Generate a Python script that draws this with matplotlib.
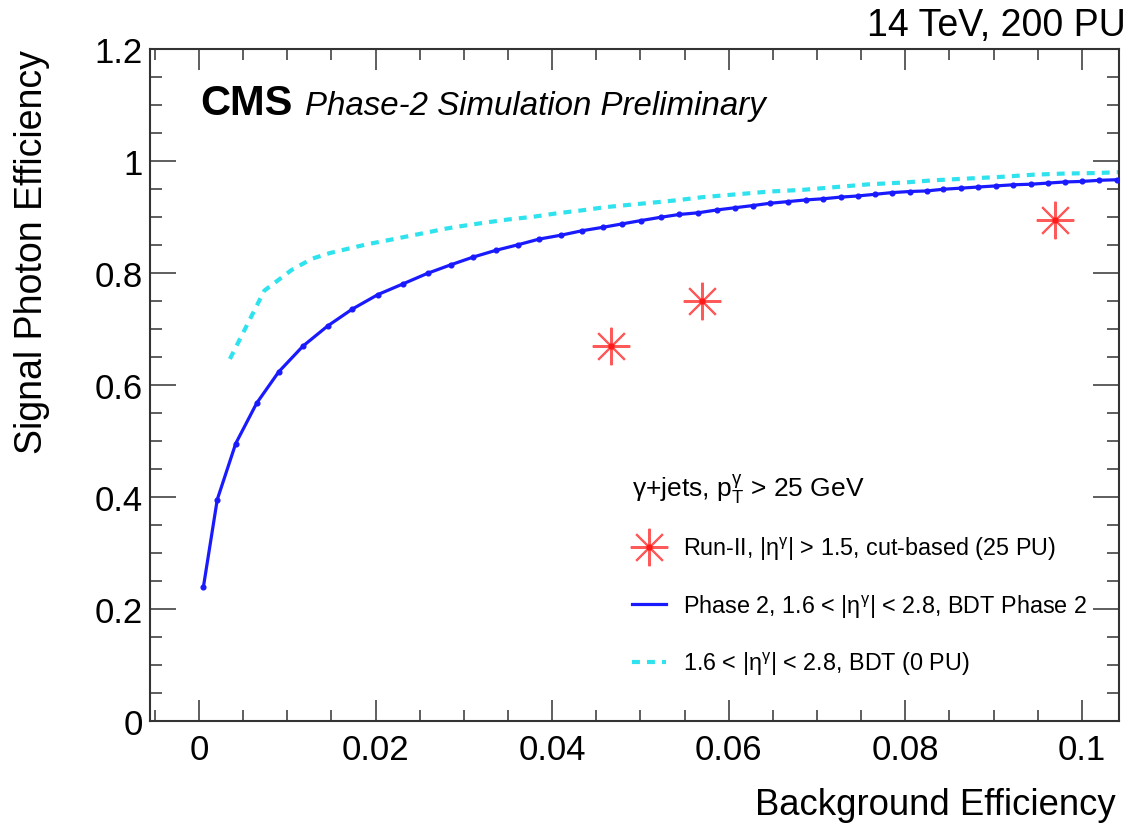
"""ROC curves: photon ID efficiency vs background efficiency."""

# Python libraries
import matplotlib
matplotlib.use('Agg')
import matplotlib.pyplot as plt
from matplotlib.lines import Line2D
from matplotlib.ticker import MultipleLocator, FuncFormatter


# Phase 2, BDT Phase 2 (200 PU).
bkg_phase2 = [0.00049, 0.00207, 0.00416, 0.00653, 0.00903, 0.01178, 0.01458,
              0.01736, 0.02027, 0.0231, 0.0259, 0.0285, 0.03107, 0.03363,
              0.03616, 0.03851, 0.0410, 0.04341, 0.04572, 0.04787, 0.05002,
              0.05229, 0.0544, 0.05655, 0.05863, 0.0607, 0.06278, 0.06467,
              0.06674, 0.06874, 0.0707, 0.07267, 0.0746, 0.07656, 0.07845,
              0.08052, 0.08241, 0.08429, 0.0863, 0.08826, 0.09026, 0.09222,
              0.0942, 0.09612, 0.09804, 0.1000, 0.10196, 0.10393]
sig_phase2 = [0.238, 0.395, 0.495, 0.567, 0.623, 0.669, 0.705,
              0.735, 0.761, 0.780, 0.799, 0.814, 0.828, 0.840,
              0.850, 0.860, 0.867, 0.875, 0.881, 0.887, 0.893,
              0.899, 0.904, 0.907, 0.912, 0.916, 0.920, 0.924,
              0.927, 0.930, 0.932, 0.935, 0.937, 0.940, 0.943,
              0.945, 0.946, 0.949, 0.951, 0.953, 0.955, 0.957,
              0.958, 0.960, 0.962, 0.963, 0.965, 0.966]

# BDT (0 PU).
bkg_0pu = [0.0035, 0.0074, 0.0105, 0.0128, 0.0148, 0.0172, 0.0191, 0.0211,
           0.0230, 0.0246, 0.0262, 0.0277, 0.0292, 0.0322, 0.0350, 0.0379,
           0.0405, 0.0432, 0.0460, 0.0486, 0.0513, 0.0539, 0.0571, 0.0609,
           0.0647, 0.0684, 0.0722, 0.0760, 0.0798, 0.0832, 0.0869, 0.0907,
           0.0945, 0.0979, 0.1017, 0.1050]
sig_0pu = [0.646, 0.768, 0.805, 0.825, 0.835, 0.844, 0.851, 0.857,
           0.863, 0.868, 0.873, 0.878, 0.882, 0.889, 0.895, 0.900,
           0.906, 0.911, 0.917, 0.921, 0.925, 0.929, 0.935, 0.940,
           0.945, 0.948, 0.953, 0.958, 0.961, 0.965, 0.968, 0.971,
           0.975, 0.977, 0.978, 0.980]

# Run-II cut-based working points (25 PU).
bkg_run2 = [0.0467, 0.0570, 0.0970]
sig_run2 = [0.669, 0.750, 0.894]

legend_header = r'γ+jets, p$_{\mathrm{T}}^{\mathrm{γ}}$ > 25 GeV'
legend_labels = [r'Run-II, |η$^{\mathrm{γ}}$| > 1.5, cut-based (25 PU)',
                 r'Phase 2, 1.6 < |η$^{\mathrm{γ}}$| < 2.8, BDT Phase 2',
                 r'1.6 < |η$^{\mathrm{γ}}$| < 2.8, BDT (0 PU)']

# Style.
plt.rcParams['font.family'] = ['Liberation Sans', 'DejaVu Sans']
plt.rcParams['mathtext.fontset'] = 'custom'
plt.rcParams['mathtext.rm'] = 'Liberation Sans'
plt.rcParams['mathtext.it'] = 'Liberation Sans:italic'
plt.rcParams['mathtext.bf'] = 'Liberation Sans:bold'

BLUE = '#1a1aff'
CYAN = '#2ee3ee'
RED = '#ff5a5a'
AXCOL = '#333333'

W, H = 1132, 828
fig = plt.figure(figsize=(W / 100, H / 100), dpi=100)
ax = fig.add_axes([150 / W, 1 - 721.7 / H, 969 / W, 672 / H])

# Curves.
ax.plot(bkg_0pu, sig_0pu, color=CYAN, linewidth=3.0,
        dashes=(1.9, 1.7), zorder=2)
ax.plot(bkg_phase2, sig_phase2, color=BLUE, linewidth=2.3,
        marker='o', markersize=3.4, zorder=3)
ax.plot(bkg_run2, sig_run2, linestyle='none', marker=(8, 2, 0),
        markersize=27, markeredgewidth=1.5, color=RED, zorder=4)
ax.plot(bkg_run2, sig_run2, linestyle='none', marker='o',
        markersize=3.5, color='#ff1a1a', zorder=5)

ax.set_xlim(-0.00555, 0.1042)
ax.set_ylim(0, 1.2)

# Ticks, ROOT style.
ax.xaxis.set_major_locator(MultipleLocator(0.02))
ax.xaxis.set_minor_locator(MultipleLocator(0.005))
ax.yaxis.set_major_locator(MultipleLocator(0.2))
ax.yaxis.set_minor_locator(MultipleLocator(0.05))
fmt = FuncFormatter(lambda v, p: '%g' % round(v, 4))
ax.xaxis.set_major_formatter(fmt)
ax.yaxis.set_major_formatter(fmt)

ax.tick_params(which='both', direction='in', top=True, right=True,
               color=AXCOL, width=1.1, labelsize=25)
ax.tick_params(axis='x', which='major', length=15, pad=9)
ax.tick_params(axis='x', which='minor', length=8)
ax.tick_params(axis='y', which='major', length=19, pad=5)
ax.tick_params(axis='y', which='minor', length=8.5)
for s in ax.spines.values():
    s.set_linewidth(1.5)
    s.set_color(AXCOL)

# Axis titles.
ax.set_xlabel('Background Efficiency', fontsize=26.3, loc='right')
ax.xaxis.set_label_coords((1116 - 150) / 969, (721.7 - 815) / 672)
ax.xaxis.label.set_verticalalignment('baseline')
ax.set_ylabel('Signal Photon Efficiency', fontsize=27, loc='top')
ax.yaxis.set_label_coords((50 - 150) / 969, 1.0)

# Labels.
fig.text(1126 / W, 1 - 36 / H, '14 TeV, 200 PU', fontsize=27,
         ha='right', va='baseline')
fig.text(200 / W, 1 - 115 / H, 'CMS', fontsize=30, fontweight='bold',
         ha='left', va='baseline')
fig.text(305 / W, 1 - 115 / H, 'Phase-2 Simulation Preliminary',
         fontsize=23.8, style='italic', ha='left', va='baseline')

# Legend.
h_star = (Line2D([], [], linestyle='none', marker=(8, 2, 0), markersize=27,
                 markeredgewidth=1.5, color=RED),
          Line2D([], [], linestyle='none', marker='o', markersize=3.5,
                 color='#ff1a1a'))
h_blue = Line2D([], [], color=BLUE, linewidth=2.3)
h_cyan = Line2D([], [], color=CYAN, linewidth=3.0, dashes=(1.9, 1.7))
ax.legend([h_star, h_blue, h_cyan], legend_labels, title=legend_header,
          loc='upper left',
          bbox_to_anchor=((632 - 150) / 969, (721.7 - 472) / 672),
          frameon=False, fontsize=16.8, title_fontsize=19, alignment='left',
          handlelength=1.45, handletextpad=0.75, labelspacing=1.3,
          borderpad=0, borderaxespad=0)

fig.savefig('out.png', dpi=100)
